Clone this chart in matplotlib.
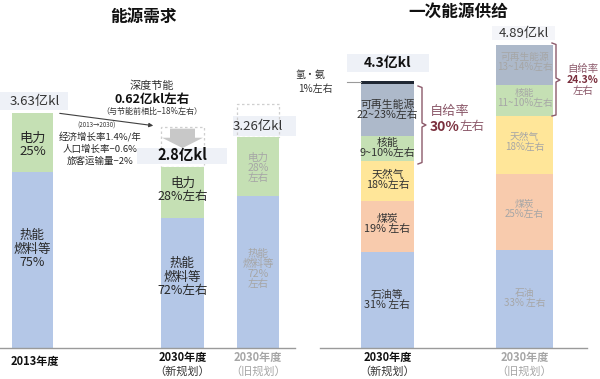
import matplotlib
matplotlib.use("Agg")
import matplotlib.pyplot as plt
from matplotlib.patches import Rectangle, Polygon, FancyArrowPatch
from matplotlib.lines import Line2D
import numpy as np

plt.rcParams['font.family'] = ['Noto Sans CJK SC', 'DejaVu Sans']

# ---- left panel: final energy demand (亿kl) ----
demand_total = [3.63, 2.8, 3.26]
power_share = [0.25, 0.28, 0.28]
saving = 0.62
demand_total_labels = ["3.63亿kl", "2.8亿kl", "3.26亿kl"]
power_labels = ["电力\n25%", "电力\n28%左右", "电力\n28%\n左右"]
heat_labels = ["热能\n燃料等\n75%", "热能\n燃料等\n72%左右", "热能\n燃料等\n72%\n左右"]
demand_years = ["2013年度", "2030年度", "2030年度"]
demand_sub = ["", "（新规划）", "（旧规划）"]

# ---- right panel: primary energy supply (亿kl), bottom -> top ----
supply_names = ["石油", "煤炭", "天然气", "核能", "可再生能源", "氢・氨"]
supply_new = [1.55, 0.82, 0.65, 0.40, 0.84, 0.04]
supply_old = [1.58, 1.23, 0.93, 0.51, 0.64, 0.0]
supply_new_labels = ["石油等\n31% 左右", "煤炭\n19% 左右", "天然气\n18%左右",
                     "核能\n9~10%左右", "可再生能源\n22~23%左右", ""]
supply_old_labels = ["石油\n33% 左右", "煤炭\n25%左右", "天然气\n18%左右",
                     "核能\n11~10%左右", "可再生能源\n13~14%左右", ""]
supply_total_labels = ["4.3亿kl", "4.89亿kl"]
self_rate = ["30%", "24.3%"]

c_blue = "#b4c7e7"
c_green = "#c5e0b4"
supply_colors = ["#b4c7e7", "#f8cbad", "#ffe699", "#c5e0b4", "#adb9ca", "#1f2733"]
dark = "#262626"
grey = "#a6a6a6"
bg = "#eef1f7"
brace = "#8c5a6b"

W, H = 600, 379
base = 31
fig = plt.figure(figsize=(6, 3.79), dpi=100)


def t(x, y, s, **kw):
    kw.setdefault("ha", "center")
    kw.setdefault("va", "center")
    kw.setdefault("color", dark)
    fig.text(x / W, 1 - y / H, s, **kw)


def box(x0, y0, x1, y1, **kw):
    fig.add_artist(Rectangle((x0 / W, 1 - y1 / H), (x1 - x0) / W, (y1 - y0) / H,
                             transform=fig.transFigure, **kw))


def poly(pts, **kw):
    fig.add_artist(Line2D([p[0] / W for p in pts], [1 - p[1] / H for p in pts],
                          transform=fig.transFigure, **kw))


axL = fig.add_axes([0, 0, 0.5, 1])
axR = fig.add_axes([0.5, 0, 0.5, 1])
sL, sR = 64.7, 62.0
axL.set_xlim(0, 300)
axL.set_ylim(-base / sL, (H - base) / sL)
axR.set_xlim(300, 600)
axR.set_ylim(-base / sR, (H - base) / sR)
for ax in (axL, axR):
    ax.axis("off")
    ax.patch.set_alpha(0)

# ---- left bars ----
xl = [32.5, 182.5, 258]
wl = [41, 43, 42]
heat = [tot * (1 - s) for tot, s in zip(demand_total, power_share)]
power = [tot * s for tot, s in zip(demand_total, power_share)]
axL.bar(xl, heat, width=wl, color=c_blue, zorder=2)
axL.bar(xl, power, width=wl, bottom=heat, color=c_green, zorder=2)
# dashed boxes above the 2030 bars
axL.bar(xl[1], saving, width=wl[1], bottom=demand_total[1], fill=False,
        edgecolor="#cfcfcf", linestyle=(0, (2, 2)), lw=0.9, zorder=1)
axL.bar(xl[2], 0.51, width=wl[2], bottom=demand_total[2], fill=False,
        edgecolor="#cfcfcf", linestyle=(0, (2, 2)), lw=0.9, zorder=1)
# grey block arrow (saving)
top = demand_total[1] + saving
axL.add_patch(Polygon([(170, top - 0.03), (195, top - 0.03), (195, top - 0.17), (203, top - 0.17),
                       (182.5, top - 0.33), (162, top - 0.17), (170, top - 0.17)],
                      closed=True, fc="#c8c8c8", ec="none", zorder=3))
axL.axhline(0, xmin=0, xmax=295 / 300, color="#9a9a9a", lw=1)

# ---- right bars ----
xr = [387.5, 524.5]
wr = [53, 57]
bot_n = np.concatenate([[0], np.cumsum(supply_new)[:-1]])
bot_o = np.concatenate([[0], np.cumsum(supply_old)[:-1]])
axR.bar([xr[0]] * 6, supply_new, bottom=bot_n, width=wr[0], color=supply_colors, zorder=2)
axR.bar([xr[1]] * 6, supply_old, bottom=bot_o, width=wr[1], color=supply_colors, zorder=2)
axR.axhline(0, xmin=20 / 300, xmax=287 / 300, color="#9a9a9a", lw=1)

# ---- backgrounds for totals ----
box(0, 92, 68, 110, fc=bg, ec="none", zorder=0)
box(137, 148, 227, 164, fc=bg, ec="none", zorder=4)
box(233, 116, 296, 136, fc=bg, ec="none", zorder=0)
box(347, 54, 429, 72, fc=bg, ec="none", zorder=0)
box(492, 26, 555, 40, fc="#f4f5f9", ec="none", zorder=0)

# ---- titles ----
t(143, 17, "能源需求", fontsize=12, fontweight="bold", color="#111111")
t(458, 12, "一次能源供给", fontsize=12, fontweight="bold", color="#111111")

# ---- left texts ----
t(35, 101, demand_total_labels[0], fontsize=9.5, color="#333333")
t(182, 155, demand_total_labels[1], fontsize=10.5, fontweight="bold", color="#111111", zorder=5)
t(258, 127, demand_total_labels[2], fontsize=9.5, color="#333333")

t(32.5, 145, power_labels[0], fontsize=9.5, linespacing=1.05)
t(32.5, 249, heat_labels[0], fontsize=9, linespacing=1.05)
t(182.5, 190, power_labels[1], fontsize=9, linespacing=1.05)
t(182.5, 277, heat_labels[1], fontsize=9, linespacing=1.05)
t(258, 168, power_labels[2], fontsize=7.6, color=grey, linespacing=1.0)
t(258, 269, heat_labels[2], fontsize=7.6, color=grey, linespacing=1.0)

t(152, 86, "深度节能", fontsize=8, color="#333333")
t(152, 100, "0.62亿kl左右", fontsize=9, fontweight="bold", color="#111111")
t(152, 111, "（与节能前相比−18%左右）", fontsize=5.8, color="#333333")
fig.add_artist(FancyArrowPatch(
    (57 / W, 1 - 113 / H), (156 / W, 1 - 126 / H), transform=fig.transFigure,
    arrowstyle="-|>", mutation_scale=6, color="#404040", lw=0.8))
t(97, 126, "(2013→2030)", fontsize=4.5, color="#333333")
t(100, 137, "经济增长率1.4%/年", fontsize=6.8)
t(100, 149, "人口增长率−0.6%", fontsize=6.8)
t(100, 161, "旅客运输量−2%", fontsize=6.8)

t(35, 362, demand_years[0], fontsize=8, fontweight="bold", color="#111111")
t(182.5, 357, demand_years[1], fontsize=8, fontweight="bold", color="#111111")
t(182.5, 371, demand_sub[1], fontsize=8, color="#333333")
t(258, 357, demand_years[2], fontsize=8, fontweight="bold", color=grey)
t(258, 371, demand_sub[2], fontsize=8, color=grey)

# ---- right texts ----
t(387.5, 63, supply_total_labels[0], fontsize=10, fontweight="bold", color="#111111")
t(524, 33, supply_total_labels[1], fontsize=9.5, color="#333333")

for lab, y in zip(supply_new_labels[:5], [300, 224, 180, 148, 110]):
    t(387.5, y, lab, fontsize=7.8, color="#333333", linespacing=1.05)
for lab, y in zip(supply_old_labels[:5], [298, 209, 142, 98, 62]):
    t(524.5, y, lab, fontsize=7, color=grey, linespacing=1.05)

poly([(347, 82), (361, 82)], color="#9a9a9a", lw=0.8)
t(310, 75, supply_names[5], fontsize=7.2, color="#333333")
t(315, 89, "1%左右", fontsize=7.2, color="#333333")

poly([(418, 86), (422, 87.5), (422, 123), (426, 125), (422, 127), (422, 162.5), (418, 164)],
     color=brace, lw=1)
t(450, 112, "自给率", fontsize=9.5, color=brace)
t(460, 127, self_rate[0], fontsize=10, fontweight="bold", color="#7a2f3d", ha="right")
t(460, 127, "左右", fontsize=9, color=brace, ha="left")

poly([(552, 43), (556, 44.5), (556, 78), (560, 80), (556, 82), (556, 115), (552, 116)],
     color=brace, lw=1)
t(583, 69, "自给率", fontsize=7.5, color=brace)
t(583, 80, self_rate[1], fontsize=7.5, fontweight="bold", color="#7a2f3d")
t(583, 91, "左右", fontsize=7.5, color=brace)

t(387.5, 357, "2030年度", fontsize=8, fontweight="bold", color="#111111")
t(387.5, 371, "（新规划）", fontsize=8, color="#333333")
t(524.5, 357, "2030年度", fontsize=8, fontweight="bold", color=grey)
t(524.5, 371, "（旧规划）", fontsize=8, color=grey)

fig.savefig("out.png", dpi=100)
